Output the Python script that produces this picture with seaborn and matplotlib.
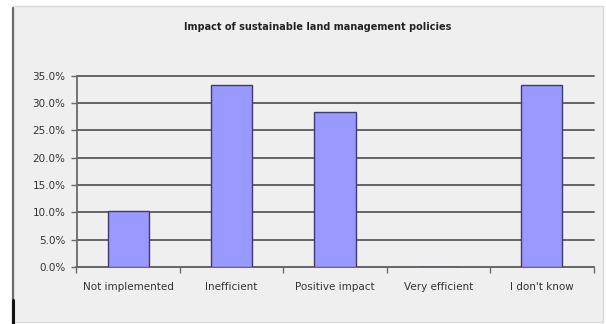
import matplotlib
matplotlib.use("Agg")
import matplotlib.pyplot as plt
import matplotlib.patches as mpatches
from matplotlib.ticker import FuncFormatter, FixedLocator
import seaborn as sns
import pandas as pd

# Survey results
categories = ["Not implemented", "Inefficient", "Positive impact", "Very efficient", "I don't know"]
shares = [0.103, 0.333, 0.283, 0.0, 0.333]
y_ticks = [0.0, 0.05, 0.10, 0.15, 0.20, 0.25, 0.30, 0.35]
title = "Impact of sustainable land management policies"

df = pd.DataFrame({"response": categories, "share": shares})

sns.set_theme(style="white")
plt.rcParams["font.family"] = ["DejaVu Sans"]

W, H = 606, 324
fig = plt.figure(figsize=(W / 100, H / 100), dpi=100, facecolor="white")

# Chart frame: light grey panel with a dark left edge
frame = mpatches.Rectangle((13 / W, 2 / H), (603 - 13) / W, (318 - 2) / H,
                           transform=fig.transFigure, facecolor="#efefef",
                           edgecolor="#d8d8d8", linewidth=1.0, zorder=-5)
fig.add_artist(frame)
fig.add_artist(plt.Line2D([13 / W, 13 / W], [0, 1 - 8 / H], transform=fig.transFigure,
                          color="#6a6a6a", linewidth=1.6, zorder=-4))
fig.add_artist(plt.Line2D([13 / W, 13 / W], [0, 24 / H], transform=fig.transFigure,
                          color="#111111", linewidth=2.2, zorder=-4))

ax = fig.add_axes([76.5 / W, 1 - 267 / H, (593.5 - 76.5) / W, (267 - 75.7) / H])
ax.set_zorder(5)
ax.set_facecolor("#efefef")

sns.barplot(data=df, x="response", y="share", order=categories, width=0.4,
            color="#9999ff", saturation=1, edgecolor="#3c3c70", linewidth=1.0,
            ax=ax, zorder=3)

ax.set_ylim(0, 0.35)
ax.set_xlim(-0.5, len(categories) - 0.5)
ax.yaxis.set_major_locator(FixedLocator(y_ticks))
ax.yaxis.set_major_formatter(FuncFormatter(lambda v, _: f"{v * 100:.1f}%"))
ax.yaxis.grid(True, color="#5a5a5a", linewidth=1.3, zorder=0)
ax.set_axisbelow(True)
for gl in ax.get_ygridlines():
    gl.set_clip_on(False)

ax.set_xlabel("")
ax.set_ylabel("")

for side in ["top", "right"]:
    ax.spines[side].set_visible(False)
for side in ["left", "bottom"]:
    ax.spines[side].set_color("#6a6a6a")
    ax.spines[side].set_linewidth(1.3)

ax.tick_params(axis="y", which="major", left=True, length=4, width=1.0, color="#6a6a6a",
               labelsize=7.5, labelcolor="#333333", pad=4)
ax.tick_params(axis="x", which="major", bottom=False, labelsize=7.5, labelcolor="#333333", pad=5)
ax.xaxis.set_minor_locator(FixedLocator([i + 0.5 for i in range(-1, len(categories))]))
ax.tick_params(axis="x", which="minor", bottom=True, length=4, width=1.0, color="#6a6a6a")

fig.text(318 / W, 1 - 27 / H, title, ha="center", va="center", fontsize=7,
         fontweight="bold", color="#222222")

fig.savefig("out.png", dpi=100, facecolor="white")
